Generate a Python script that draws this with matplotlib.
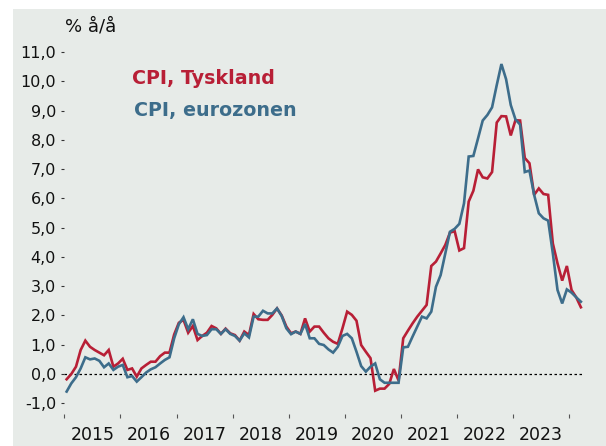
import numpy as np
import matplotlib
matplotlib.use("Agg")
import matplotlib.pyplot as plt
from matplotlib.patches import Rectangle
from matplotlib.ticker import FixedLocator, FuncFormatter

# ---- data (monthly, Jan 2015 .. Mar 2024) ----
years = ["2015", "2016", "2017", "2018", "2019", "2020", "2021", "2022", "2023"]
start_year = 2015

cpi_tyskland = [
    -0.18, 0.00, 0.25, 0.82, 1.14, 0.93, 0.82, 0.73, 0.64, 0.82, 0.25, 0.36,
    0.52, 0.14, 0.19, -0.09, 0.19, 0.31, 0.42, 0.42, 0.61, 0.73, 0.73, 1.35,
    1.75, 1.85, 1.41, 1.64, 1.16, 1.30, 1.41, 1.64, 1.56, 1.37, 1.55, 1.39,
    1.33, 1.14, 1.45, 1.33, 2.05, 1.87, 1.85, 1.85, 2.02, 2.24, 2.00, 1.62,
    1.39, 1.45, 1.37, 1.90, 1.45, 1.62, 1.62, 1.41, 1.22, 1.10, 1.03, 1.56,
    2.13, 2.02, 1.82, 0.99, 0.76, 0.54, -0.57, -0.50, -0.50, -0.34, 0.17, -0.22,
    1.22, 1.48, 1.73, 1.96, 2.16, 2.36, 3.69, 3.84, 4.12, 4.41, 4.83, 4.88,
    4.22, 4.30, 5.89, 6.26, 6.99, 6.72, 6.68, 6.90, 8.59, 8.81, 8.80, 8.15,
    8.67, 8.66, 7.38, 7.20, 6.12, 6.34, 6.15, 6.12, 4.46, 3.78, 3.19, 3.69,
    2.87, 2.62, 2.28,
]

cpi_eurozonen = [
    -0.60, -0.32, -0.11, 0.19, 0.57, 0.50, 0.53, 0.45, 0.23, 0.36, 0.14, 0.25,
    0.31, -0.11, -0.07, -0.26, -0.11, 0.05, 0.16, 0.23, 0.36, 0.48, 0.57, 1.22,
    1.70, 1.94, 1.53, 1.87, 1.37, 1.30, 1.33, 1.53, 1.53, 1.37, 1.53, 1.37,
    1.30, 1.14, 1.39, 1.25, 1.96, 1.96, 2.16, 2.07, 2.07, 2.24, 1.98, 1.56,
    1.36, 1.45, 1.37, 1.71, 1.22, 1.22, 1.03, 0.99, 0.84, 0.73, 0.93, 1.30,
    1.37, 1.22, 0.76, 0.27, 0.08, 0.25, 0.36, -0.18, -0.30, -0.30, -0.30, -0.30,
    0.91, 0.93, 1.28, 1.62, 1.96, 1.90, 2.13, 2.98, 3.38, 4.12, 4.86, 4.96,
    5.13, 5.83, 7.43, 7.45, 8.05, 8.66, 8.85, 9.11, 9.87, 10.59, 10.07, 9.19,
    8.70, 8.52, 6.90, 6.95, 6.12, 5.49, 5.32, 5.24, 4.12, 2.87, 2.41, 2.89,
    2.78, 2.62, 2.47,
]

y_ticks = [-1.0, 0.0, 1.0, 2.0, 3.0, 4.0, 5.0, 6.0, 7.0, 8.0, 9.0, 10.0, 11.0]

label_de = "CPI, Tyskland"
label_ez = "CPI, eurozonen"
unit_label = "% å/å"

# ---- style ----
RED = "#b81f36"
BLUE = "#3d6d8b"
BG = "#e7ebe8"
W, H = 606, 446

fig = plt.figure(figsize=(W / 100, H / 100), dpi=100, facecolor="white")
fig.patches.append(Rectangle((13 / W, 0), 1 - 13 / W, (H - 9) / H,
                             transform=fig.transFigure, facecolor=BG,
                             edgecolor="none", zorder=-5))

ax_left, ax_right = 64.3, 583.0
ax_top, ax_bot = 45.0, 414.0
ax = fig.add_axes([ax_left / W, (H - ax_bot) / H,
                   (ax_right - ax_left) / W, (ax_bot - ax_top) / H])
ax.set_facecolor(BG)
for s in ax.spines.values():
    s.set_visible(False)

px_per_month = 4.675
px_per_unit = 29.27
ax.set_xlim(0, (ax_right - ax_left) / px_per_month)
ax.set_ylim((374 - ax_bot) / px_per_unit, (374 - ax_top) / px_per_unit)

x = np.arange(len(cpi_tyskland)) + 0.5
ax.axhline(0, color="black", lw=0.9, ls=(0, (2, 2)), zorder=1)
ax.plot(x, cpi_tyskland, color=RED, lw=1.9, zorder=3, solid_joinstyle="miter")
ax.plot(x, cpi_eurozonen, color=BLUE, lw=1.9, zorder=4, solid_joinstyle="miter")

# y axis
ax.yaxis.set_major_locator(FixedLocator(y_ticks))
ax.yaxis.set_major_formatter(FuncFormatter(lambda v, p: f"{v:.1f}".replace(".", ",")))
ax.tick_params(axis="y", direction="out", length=2.3, width=0.8, color="#333333",
               pad=3.6, labelsize=11.5, labelcolor="#111111")

# x axis: ticks at year boundaries, labels mid-year
n_years = len(years) + 1
ax.xaxis.set_major_locator(FixedLocator([12 * k for k in range(n_years)]))
ax.xaxis.set_major_formatter(FuncFormatter(lambda v, p: ""))
ax.xaxis.set_minor_locator(FixedLocator([12 * k + 6 for k in range(len(years))]))
ax.xaxis.set_minor_formatter(FuncFormatter(lambda v, p: years[int(v // 12)]
                                           if 0 <= int(v // 12) < len(years) else ""))
ax.tick_params(axis="x", which="major", direction="out", length=3.0, width=0.8,
               color="#555555")
ax.tick_params(axis="x", which="minor", length=0, pad=8.5, labelsize=12.5,
               labelcolor="#111111")

# texts
fig.text(65 / W, 1 - 26.5 / H, unit_label, fontsize=13, color="#111111",
         ha="left", va="center")
fig.text(132 / W, 1 - 83.5 / H, label_de, fontsize=13.7, fontweight="bold",
         color=RED, ha="left", va="baseline")
fig.text(134 / W, 1 - 116.5 / H, label_ez, fontsize=13.7, fontweight="bold",
         color=BLUE, ha="left", va="baseline")

fig.savefig("out.png", dpi=100, facecolor="white")
